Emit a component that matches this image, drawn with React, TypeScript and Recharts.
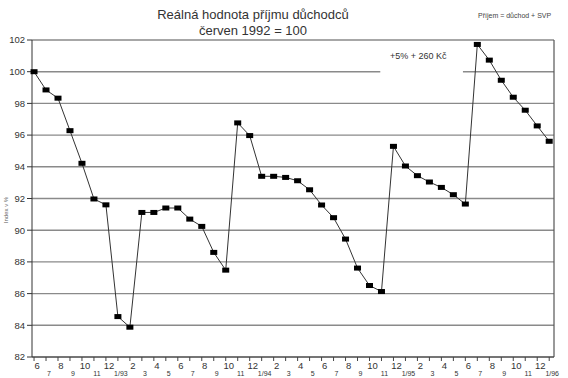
import React from "react";
import {
  LineChart,
  Line,
  XAxis,
  YAxis,
  CartesianGrid,
  ReferenceArea,
  ReferenceLine,
} from "recharts";

const monthLabels = [
  "6", "7", "8", "9", "10", "11", "12",
  "1/93", "2", "3", "4", "5", "6", "7", "8", "9", "10", "11", "12",
  "1/94", "2", "3", "4", "5", "6", "7", "8", "9", "10", "11", "12",
  "1/95", "2", "3", "4", "5", "6", "7", "8", "9", "10", "11", "12",
  "1/96",
];

const incomeIndex = [
  100.0, 98.85, 98.33, 96.28, 94.22, 91.97, 91.6,
  84.55, 83.88, 91.12, 91.12, 91.4, 91.4, 90.7, 90.24, 88.6, 87.48, 96.77, 95.97,
  93.4, 93.4, 93.33, 93.12, 92.55, 91.59, 90.79, 89.44, 87.61, 86.51, 86.13, 95.29,
  94.05, 93.44, 93.04, 92.7, 92.24, 91.65, 101.72, 100.73, 99.46, 98.39, 97.57, 96.58,
  95.61,
];

const yTicks = [82, 84, 86, 88, 90, 92, 94, 96, 98, 100, 102];

const titleLine1 = "Reálná hodnota příjmu důchodců";
const titleLine2 = "červen 1992 = 100";
const noteText = "Příjem = důchod + SVP";
const annotationText = "+5% + 260 Kč";
const yAxisLabel = "Index v %";

const data = incomeIndex.map((v, i) => ({ idx: i, value: v }));
const xTicks = monthLabels.map((_, i) => i);

const FONT = "'Liberation Sans', Arial, sans-serif";

const XTick = (props: any) => {
  const { x, y, payload } = props;
  const i = payload.value as number;
  const row = i % 2;
  return (
    <text
      x={x + 3}
      y={row === 0 ? y + 7 : y + 13.5}
      textAnchor="middle"
      fontSize={row === 0 ? 9.5 : 7}
      fontFamily={FONT}
      fill="#333"
    >
      {monthLabels[i]}
    </text>
  );
};

const SquareDot = (props: any) => {
  const { cx, cy } = props;
  if (cx == null || cy == null) return null;
  return <rect x={cx - 3.5} y={cy - 2.5} width={7} height={5} fill="#000" />;
};

export default function App() {
  return (
    <div
      style={{
        position: "absolute",
        left: 0,
        top: 0,
        width: 568,
        height: 378,
        background: "#fff",
        fontFamily: FONT,
        overflow: "hidden",
      }}
    >
      <LineChart
        width={568}
        height={378}
        data={data}
        margin={{ top: 40, right: 14, left: 0, bottom: 0 }}
      >
        <CartesianGrid
          vertical={false}
          stroke="#8a8a8a"
          strokeWidth={1.4}
        />
        <XAxis
          dataKey="idx"
          type="number"
          domain={[-0.17, 43.4]}
          ticks={xTicks}
          interval={0}
          height={21}
          tickSize={4}
          tickMargin={1}
          tick={<XTick />}
          stroke="#444"
          allowDecimals={false}
        />
        <YAxis
          type="number"
          domain={[82, 102]}
          ticks={yTicks}
          width={32}
          tickSize={5}
          tickMargin={2}
          stroke="#333"
          tick={{ fontSize: 9.5, fill: "#333", fontFamily: FONT }}
          interval={0}
        />
        <ReferenceLine x={43.4} stroke="#555" strokeWidth={1.2} ifOverflow="visible" />
        <ReferenceArea
          x1={28.9}
          x2={35.8}
          y1={99.6}
          y2={101.4}
          fill="#fff"
          fillOpacity={1}
          stroke="none"
          ifOverflow="visible"
        />
        <Line
          type="linear"
          dataKey="value"
          stroke="#333"
          strokeWidth={1}
          dot={<SquareDot />}
          activeDot={false}
          isAnimationActive={false}
        />
      </LineChart>
      <div
        style={{
          position: "absolute",
          left: 0,
          width: 506,
          top: 7,
          textAlign: "center",
          fontSize: 13,
          lineHeight: "16px",
          color: "#333",
        }}
      >
        <div>{titleLine1}</div>
        <div>{titleLine2}</div>
      </div>
      <div
        style={{
          position: "absolute",
          left: 478,
          top: 12,
          fontSize: 7,
          color: "#444",
          whiteSpace: "nowrap",
        }}
      >
        {noteText}
      </div>
      <div
        style={{
          position: "absolute",
          left: 390,
          top: 51,
          fontSize: 9,
          color: "#333",
          whiteSpace: "nowrap",
        }}
      >
        {annotationText}
      </div>
      <div
        style={{
          position: "absolute",
          left: 6,
          top: 210,
          width: 0,
          height: 0,
        }}
      >
        <div
          style={{
            position: "absolute",
            left: 0,
            top: 0,
            transform: "translate(-50%, -50%) rotate(-90deg)",
            fontSize: 6,
            lineHeight: "7px",
            color: "#666",
            whiteSpace: "nowrap",
          }}
        >
          {yAxisLabel}
        </div>
      </div>
    </div>
  );
}
